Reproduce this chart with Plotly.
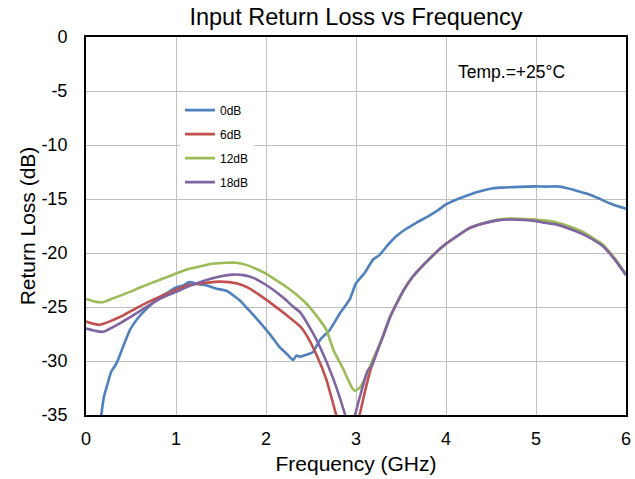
import plotly.graph_objects as go

# ---- data ----
freq_0db = [0.10, 0.17, 0.20, 0.23, 0.28, 0.34, 0.42, 0.49, 0.58, 0.67, 0.80, 0.90,
            1.00, 1.08, 1.15, 1.25, 1.34, 1.45, 1.56, 1.65, 1.71, 1.80, 1.93, 2.05,
            2.15, 2.25, 2.30, 2.34, 2.38, 2.42, 2.49, 2.52, 2.60, 2.71, 2.82, 2.93,
            3.00, 3.10, 3.19, 3.26, 3.35, 3.44, 3.55, 3.67, 3.80, 3.90, 4.00, 4.13,
            4.26, 4.37, 4.48, 4.60, 4.75, 4.90, 5.00, 5.10, 5.23, 5.35, 5.48, 5.60,
            5.70, 5.82, 5.90, 6.00]
rl_0db = [-40.0, -35.0, -33.3, -32.4, -31.0, -30.2, -28.5, -27.1, -26.0, -25.2, -24.2, -23.7,
          -23.2, -23.0, -22.7, -22.9, -23.0, -23.3, -23.5, -24.0, -24.4, -25.2, -26.4, -27.6,
          -28.7, -29.5, -29.9, -29.5, -29.6, -29.5, -29.3, -29.2, -28.05, -27.1, -25.6, -24.3,
          -22.8, -21.8, -20.6, -20.2, -19.3, -18.5, -17.8, -17.2, -16.6, -16.1, -15.5, -15.0,
          -14.6, -14.3, -14.07, -13.95, -13.9, -13.85, -13.83, -13.85, -13.83, -14.0, -14.3, -14.6,
          -14.95, -15.4, -15.65, -15.9]

freq_6db = [0.00, 0.15, 0.30, 0.43, 0.56, 0.70, 0.86, 1.00, 1.15, 1.30, 1.49, 1.67,
            1.80, 1.93, 2.08, 2.22, 2.38, 2.45, 2.56, 2.67, 2.78, 2.91, 3.04, 3.10,
            3.17, 3.24, 3.30, 3.38, 3.45, 3.54, 3.63, 3.75, 3.87, 4.00, 4.13, 4.26,
            4.40, 4.55, 4.73, 4.87, 5.00, 5.10, 5.22, 5.37, 5.52, 5.63, 5.74, 5.87, 6.00]
rl_6db = [-26.35, -26.65, -26.2, -25.7, -25.1, -24.5, -23.9, -23.4, -22.95, -22.8, -22.65, -22.8,
          -23.2, -23.9, -24.8, -25.7, -26.8, -27.6, -29.4, -31.7, -35.0, -38.9, -35.0, -32.8,
          -30.6, -29.0, -27.7, -25.9, -24.7, -23.3, -22.2, -21.1, -20.1, -19.15, -18.4, -17.7,
          -17.3, -17.0, -16.85, -16.9, -16.95, -17.05, -17.2, -17.6, -18.1, -18.65, -19.25, -20.5, -22.0]

freq_12db = [0.00, 0.10, 0.19, 0.30, 0.49, 0.60, 0.75, 0.88, 1.00, 1.13, 1.26, 1.40,
             1.56, 1.67, 1.78, 1.90, 2.00, 2.11, 2.22, 2.33, 2.45, 2.56, 2.67, 2.75,
             2.85, 2.91, 2.95, 2.99, 3.05, 3.11, 3.17, 3.24, 3.30, 3.38, 3.45, 3.54,
             3.63, 3.75, 3.87, 4.00, 4.13, 4.26, 4.40, 4.55, 4.73, 4.87, 5.00, 5.10,
             5.22, 5.37, 5.52, 5.63, 5.74, 5.87, 6.00]
rl_12db = [-24.25, -24.5, -24.55, -24.2, -23.6, -23.2, -22.7, -22.3, -21.9, -21.5, -21.25, -21.0,
           -20.9, -20.9, -21.1, -21.5, -21.9, -22.5, -23.1, -23.8, -24.7, -25.8, -27.1, -29.0,
           -30.6, -31.7, -32.4, -32.75, -32.4, -31.4, -30.2, -28.9, -27.7, -25.9, -24.7, -23.3,
           -22.2, -21.1, -20.1, -19.15, -18.4, -17.7, -17.3, -16.95, -16.8, -16.85, -16.9, -17.0,
           -17.15, -17.55, -18.05, -18.6, -19.2, -20.45, -22.0]

freq_18db = [0.00, 0.10, 0.19, 0.38, 0.50, 0.67, 0.83, 1.00, 1.17, 1.34, 1.50, 1.63,
             1.75, 1.86, 1.97, 2.08, 2.20, 2.30, 2.38, 2.52, 2.60, 2.75, 2.88, 2.94,
             2.99, 3.06, 3.13, 3.17, 3.24, 3.30, 3.38, 3.45, 3.54, 3.63, 3.75, 3.87,
             4.00, 4.13, 4.26, 4.40, 4.55, 4.73, 4.87, 5.00, 5.10, 5.22, 5.37, 5.52,
             5.63, 5.74, 5.87, 6.00]
rl_18db = [-27.0, -27.2, -27.3, -26.5, -25.9, -25.0, -24.2, -23.6, -23.0, -22.5, -22.15, -22.0,
           -22.05, -22.3, -22.8, -23.4, -24.2, -24.95, -25.5, -27.4, -28.7, -31.7, -35.0, -37.0,
           -35.0, -32.8, -30.9, -30.5, -29.0, -27.7, -25.9, -24.7, -23.3, -22.2, -21.1, -20.1,
           -19.15, -18.4, -17.7, -17.3, -17.0, -16.9, -16.95, -17.05, -17.2, -17.35, -17.75, -18.25,
           -18.75, -19.35, -20.55, -22.05]

series_names = ["0dB", "6dB", "12dB", "18dB"]
series_colors = ["#4F81BD", "#C0504D", "#9BBB59", "#8064A2"]
series_x = [freq_0db, freq_6db, freq_12db, freq_18db]
series_y = [rl_0db, rl_6db, rl_12db, rl_18db]

x_tick_vals = [0, 1, 2, 3, 4, 5, 6]
x_tick_text = ["0", "1", "2", "3", "4", "5", "6"]
y_tick_vals = [0, -5, -10, -15, -20, -25, -30, -35]
y_tick_text = ["0", "-5", "-10", "-15", "-20", "-25", "-30", "-35"]

FONT = "Liberation Sans, Arial, sans-serif"

fig = go.Figure()
for name, color, xs, ys in zip(series_names, series_colors, series_x, series_y):
    fig.add_trace(go.Scatter(
        x=xs, y=ys, mode="lines", name=name, legendgroup=name,
        line=dict(color=color, width=2.6, shape="spline", smoothing=0.5),
    ))

fig.update_layout(
    width=635, height=479,
    margin=dict(l=86, r=9, t=37, b=64, autoexpand=False),
    paper_bgcolor="white", plot_bgcolor="white",
    font=dict(family=FONT, color="black"),
    title=dict(text="Input Return Loss vs Frequency", x=0.5, xref="paper",
               y=1 - 17 / 479, yanchor="middle", xanchor="center",
               font=dict(size=23.5, family=FONT, color="black")),
    xaxis=dict(range=[0, 6], tickvals=x_tick_vals, ticktext=x_tick_text, showgrid=True,
               gridcolor="#BFBFBF", gridwidth=1, showline=True, linecolor="black",
               linewidth=2, mirror=True, ticks="", zeroline=False, tickfont=dict(size=18),
               automargin=False, ticklabelstandoff=6,
               title=dict(text="Frequency (GHz)", font=dict(size=21), standoff=9)),
    yaxis=dict(range=[-35, 0], tickvals=y_tick_vals, ticktext=y_tick_text, showgrid=True,
               gridcolor="#BFBFBF", gridwidth=1, showline=True, linecolor="black",
               linewidth=2, mirror=True, ticks="", zeroline=False, tickfont=dict(size=18),
               automargin=False, ticklabelstandoff=13,
               title=dict(text="Return Loss (dB)", font=dict(size=21), standoff=0)),
    legend=dict(x=0.174, y=0.845, xanchor="left", yanchor="top", bgcolor="white",
                borderwidth=0, font=dict(size=12), tracegroupgap=5),
    showlegend=True,
    annotations=[dict(text="Temp.=+25°C", xref="paper", yref="paper",
                      x=(511 - 86) / 540, y=(415 - 72) / 378, xanchor="center",
                      yanchor="middle", showarrow=False, font=dict(size=17.5))],
)

fig.write_html("out.html", config={"displayModeBar": False},
               post_script="document.body.style.margin='0px';document.body.style.overflow='hidden';")
